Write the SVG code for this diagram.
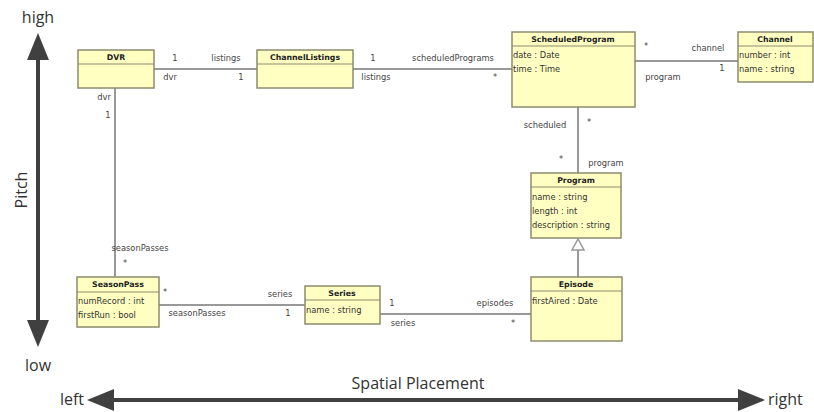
<svg xmlns="http://www.w3.org/2000/svg" width="814" height="412" viewBox="0 0 814 412">
<style>
.box{fill:#ffffc2;stroke:#8c8c6e;stroke-width:1.5}
.div{stroke:#8c8c6e;stroke-width:1.2}
.t{font-family:"DejaVu Sans",sans-serif;font-size:8.3px;fill:#333}
.h{font-family:"DejaVu Sans",sans-serif;font-size:7.8px;font-weight:bold;fill:#222;text-anchor:middle}
.a{font-family:"DejaVu Sans",sans-serif;font-size:8.3px;fill:#444;text-anchor:middle}
.ln{stroke:#999;stroke-width:2;fill:none}
.ax{font-family:"Open Sans","Noto Sans",sans-serif;font-size:16px;fill:#333}
</style>
<rect width="814" height="412" fill="#fff"/>
<g id="axes">
<line x1="38" y1="56" x2="38" y2="324" stroke="#404040" stroke-width="4"/>
<polygon points="38,33 27,60 49,60" fill="#404040"/>
<polygon points="38,347 27,320 49,320" fill="#404040"/>
<line x1="110" y1="400" x2="742" y2="400" stroke="#404040" stroke-width="4"/>
<polygon points="87,400 114,389 114,411" fill="#404040"/>
<polygon points="765,400 738,389 738,411" fill="#404040"/>
<text class="ax" x="38" y="23" text-anchor="middle">high</text>
<text class="ax" x="38" y="371" text-anchor="middle">low</text>
<text class="ax" transform="translate(27,190) rotate(-90)" text-anchor="middle">Pitch</text>
<text class="ax" x="84" y="405" text-anchor="end">left</text>
<text class="ax" x="768" y="405">right</text>
<text class="ax" x="418" y="389" text-anchor="middle">Spatial Placement</text>
</g>
<g id="connectors">
<line class="ln" x1="154" y1="69" x2="257" y2="69"/>
<line class="ln" x1="353" y1="69" x2="512" y2="69"/>
<line class="ln" x1="635" y1="61" x2="738" y2="61"/>
<line class="ln" x1="578" y1="107" x2="578" y2="173"/>
<line class="ln" x1="578" y1="250" x2="578" y2="277"/>
<polygon points="578,239 572,250 584,250" fill="#fff" stroke="#999" stroke-width="1.5"/>
<line class="ln" x1="115" y1="88" x2="115" y2="277"/>
<line class="ln" x1="159" y1="305" x2="305" y2="305"/>
<line class="ln" x1="380" y1="314" x2="531" y2="314"/>
<text class="a" x="175" y="61">1</text>
<text class="a" x="226" y="61">listings</text>
<text class="a" x="170" y="80">dvr</text>
<text class="a" x="241" y="80">1</text>
<text class="a" x="104" y="100">dvr</text>
<text class="a" x="108" y="118">1</text>
<text class="a" x="140" y="251">seasonPasses</text>
<text class="a" x="125" y="266">*</text>
<text class="a" x="373" y="61">1</text>
<text class="a" x="453" y="61">scheduledPrograms</text>
<text class="a" x="376" y="80">listings</text>
<text class="a" x="495" y="80">*</text>
<text class="a" x="646" y="49">*</text>
<text class="a" x="708" y="51">channel</text>
<text class="a" x="722" y="71">1</text>
<text class="a" x="663" y="80">program</text>
<text class="a" x="545" y="128">scheduled</text>
<text class="a" x="589" y="125">*</text>
<text class="a" x="561" y="162">*</text>
<text class="a" x="606" y="166">program</text>
<text class="a" x="165" y="295">*</text>
<text class="a" x="280" y="297">series</text>
<text class="a" x="197" y="316">seasonPasses</text>
<text class="a" x="288" y="316">1</text>
<text class="a" x="392" y="306">1</text>
<text class="a" x="495" y="306">episodes</text>
<text class="a" x="403" y="326">series</text>
<text class="a" x="513" y="326">*</text>
</g>
<g id="DVR">
<rect class="box" x="78" y="50" width="76" height="38"/>
<line class="div" x1="78" y1="64" x2="154" y2="64"/>
<text class="h" x="116" y="60">DVR</text>
</g>
<g id="ChannelListings">
<rect class="box" x="257" y="50" width="96" height="38"/>
<line class="div" x1="257" y1="64" x2="353" y2="64"/>
<text class="h" x="305" y="60">ChannelListings</text>
</g>
<g id="ScheduledProgram">
<rect class="box" x="512" y="32" width="123" height="75"/>
<line class="div" x1="512" y1="46" x2="635" y2="46"/>
<text class="h" x="573" y="42">ScheduledProgram</text>
<text class="t" x="513" y="58">date : Date</text>
<text class="t" x="513" y="72">time : Time</text>
</g>
<g id="Channel">
<rect class="box" x="738" y="32" width="75" height="50"/>
<line class="div" x1="738" y1="46" x2="813" y2="46"/>
<text class="h" x="775" y="42">Channel</text>
<text class="t" x="739" y="58">number : int</text>
<text class="t" x="739" y="72">name : string</text>
</g>
<g id="Program">
<rect class="box" x="531" y="173" width="90" height="65"/>
<line class="div" x1="531" y1="187" x2="621" y2="187"/>
<text class="h" x="576" y="183">Program</text>
<text class="t" x="532" y="200">name : string</text>
<text class="t" x="532" y="214">length : int</text>
<text class="t" x="532" y="228">description : string</text>
</g>
<g id="Episode">
<rect class="box" x="531" y="277" width="91" height="64"/>
<line class="div" x1="531" y1="291" x2="622" y2="291"/>
<text class="h" x="576" y="287">Episode</text>
<text class="t" x="532" y="304">firstAired : Date</text>
</g>
<g id="SeasonPass">
<rect class="box" x="77" y="277" width="82" height="50"/>
<line class="div" x1="77" y1="292" x2="159" y2="292"/>
<text class="h" x="118" y="287">SeasonPass</text>
<text class="t" x="78" y="304">numRecord : int</text>
<text class="t" x="78" y="318">firstRun : bool</text>
</g>
<g id="Series">
<rect class="box" x="305" y="286" width="75" height="38"/>
<line class="div" x1="305" y1="300" x2="380" y2="300"/>
<text class="h" x="342" y="296">Series</text>
<text class="t" x="306" y="313">name : string</text>
</g>
</svg>
